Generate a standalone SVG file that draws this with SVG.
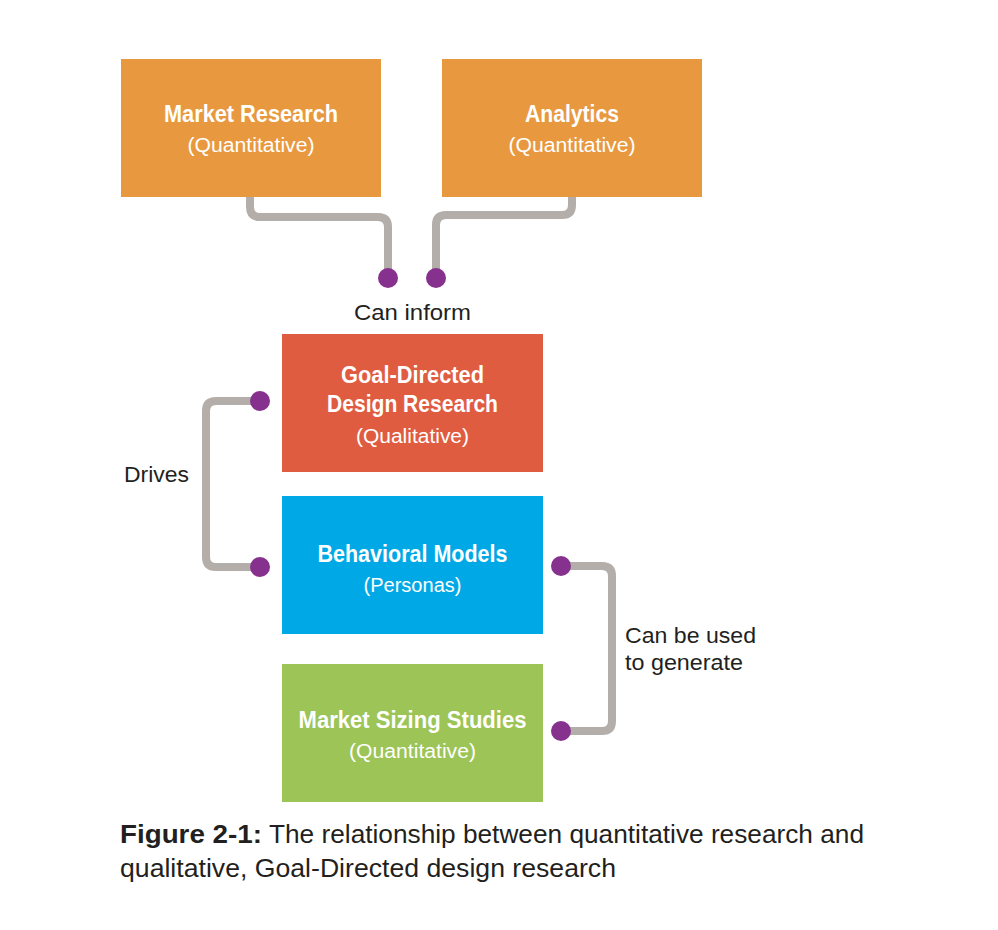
<svg xmlns="http://www.w3.org/2000/svg" width="998" height="930" viewBox="0 0 998 930">
<style>
.t{font-family:"Liberation Sans Narrow","Liberation Sans",Arial,sans-serif;}
.h{font-weight:bold;font-size:24px;fill:#ffffff;text-anchor:middle;}
.s{font-size:20px;fill:#ffffff;text-anchor:middle;}
.l{font-size:22px;fill:#231f20;}
.c{font-size:25px;fill:#231f20;}
.ln{fill:none;stroke:#b3aea9;stroke-width:8;stroke-linejoin:round;}
.dot{fill:#86318e;}
</style>
<rect width="998" height="930" fill="#ffffff"/>
<g id="connectors">
<path class="ln" d="M250,197 V207 Q250,217 260,217 H378 Q388,217 388,227 V278"/>
<path class="ln" d="M572,197 V205 Q572,215 562,215 H446 Q436,215 436,225 V278"/>
<path class="ln" d="M260,401 H216 Q206,401 206,411 V557 Q206,567 216,567 H260"/>
<path class="ln" d="M561,566 H602 Q612,566 612,576 V721 Q612,731 602,731 H561"/>
<circle class="dot" cx="388" cy="278" r="10"/>
<circle class="dot" cx="436" cy="278" r="10"/>
<circle class="dot" cx="260" cy="401" r="10"/>
<circle class="dot" cx="260" cy="567" r="10"/>
<circle class="dot" cx="561" cy="566" r="10"/>
<circle class="dot" cx="561" cy="731" r="10"/>
<text class="t l" x="354" y="320" textLength="117" lengthAdjust="spacingAndGlyphs">Can inform</text>
<text class="t l" x="124" y="482" textLength="65" lengthAdjust="spacingAndGlyphs">Drives</text>
<text class="t l" x="625" y="643" textLength="131" lengthAdjust="spacingAndGlyphs">Can be used</text>
<text class="t l" x="625" y="670" textLength="118" lengthAdjust="spacingAndGlyphs">to generate</text>
</g>
<g id="market-research">
<rect x="121" y="59" width="260" height="138" fill="#e8993f"/>
<text class="t h" x="251" y="122" textLength="174" lengthAdjust="spacingAndGlyphs">Market Research</text>
<text class="t s" x="251" y="152" textLength="127" lengthAdjust="spacingAndGlyphs">(Quantitative)</text>
</g>
<g id="analytics">
<rect x="442" y="59" width="260" height="138" fill="#e8993f"/>
<text class="t h" x="572" y="122" textLength="94" lengthAdjust="spacingAndGlyphs">Analytics</text>
<text class="t s" x="572" y="152" textLength="127" lengthAdjust="spacingAndGlyphs">(Quantitative)</text>
</g>
<g id="goal-directed">
<rect x="282" y="334" width="261" height="138" fill="#e05c41"/>
<text class="t h" x="412.5" y="383" textLength="143" lengthAdjust="spacingAndGlyphs">Goal-Directed</text>
<text class="t h" x="412.5" y="412" textLength="171" lengthAdjust="spacingAndGlyphs">Design Research</text>
<text class="t s" x="412.5" y="443" textLength="113" lengthAdjust="spacingAndGlyphs">(Qualitative)</text>
</g>
<g id="behavioral-models">
<rect x="282" y="496" width="261" height="138" fill="#00a9e6"/>
<text class="t h" x="412.5" y="562" textLength="190" lengthAdjust="spacingAndGlyphs">Behavioral Models</text>
<text class="t s" x="412.5" y="592" textLength="98" lengthAdjust="spacingAndGlyphs">(Personas)</text>
</g>
<g id="market-sizing">
<rect x="282" y="664" width="261" height="138" fill="#9cc456"/>
<text class="t h" x="412.5" y="728" textLength="228" lengthAdjust="spacingAndGlyphs">Market Sizing Studies</text>
<text class="t s" x="412.5" y="758" textLength="127" lengthAdjust="spacingAndGlyphs">(Quantitative)</text>
</g>
<g id="caption">
<text class="t c" x="120" y="843"><tspan font-weight="bold" textLength="142" lengthAdjust="spacingAndGlyphs">Figure 2-1:</tspan></text>
<text class="t c" x="269" y="843" textLength="595" lengthAdjust="spacingAndGlyphs">The relationship between quantitative research and</text>
<text class="t c" x="120" y="877" textLength="496" lengthAdjust="spacingAndGlyphs">qualitative, Goal-Directed design research</text>
</g>
</svg>
